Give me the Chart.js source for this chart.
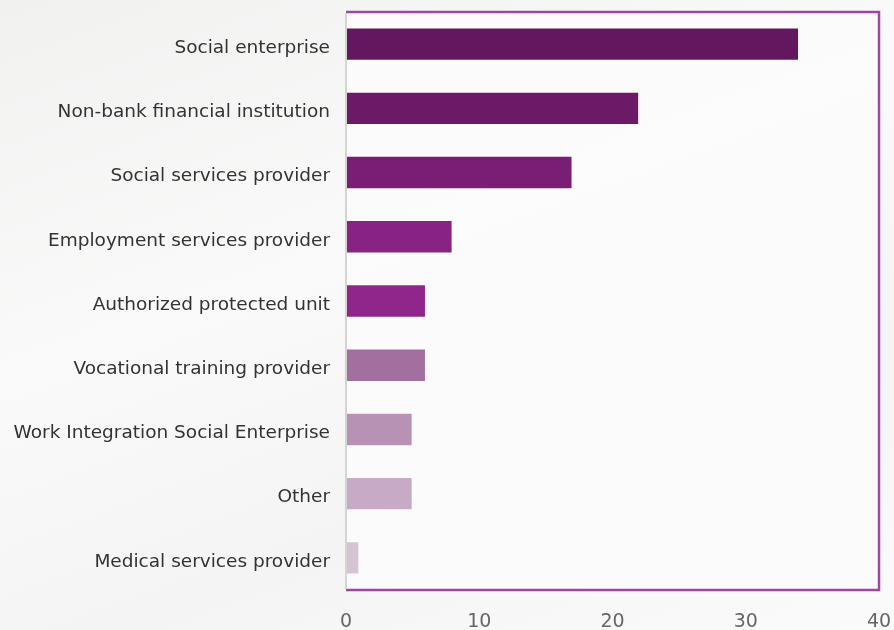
<!DOCTYPE html>
<html lang="en">
<head>
  <meta charset="UTF-8" />
  <title>Organisation types</title>
  <style>
    html, body {
      margin: 0;
      padding: 0;
      width: 894px;
      height: 630px;
      overflow: hidden;
      background: linear-gradient(160deg, #f1f1f0 0%, #fafafa 40%, #f4f4f4 70%, #fbfbfb 100%);
      font-family: "DejaVu Sans", Arial, sans-serif;
    }
    #wrap {
      position: absolute;
      left: 0;
      top: 0;
      width: 894px;
      height: 630px;
    }
  </style>
</head>
<body>
  <div id="wrap"><canvas id="org-chart" width="894" height="630"></canvas></div>

  <script src="https://cdn.jsdelivr.net/npm/chart.js"></script>
  <script>
    const categories = [
      "Social enterprise",
      "Non-bank financial institution",
      "Social services provider",
      "Employment services provider",
      "Authorized protected unit",
      "Vocational training provider",
      "Work Integration Social Enterprise",
      "Other",
      "Medical services provider"
    ];
    const counts = [34, 22, 17, 8, 6, 6, 5, 5, 1];
    const barColors = [
      "#62175e", "#6c1a68", "#7a1e75", "#882383", "#90258c",
      "#a36f9f", "#b892b5", "#c7aac5", "#d6c3d3"
    ];
    const xTicks = [0, 10, 20, 30, 40];

    // purple frame along top, right and bottom of plot area, grey line on the left
    const frame = {
      id: "frame",
      afterDraw(chart) {
        const { ctx, chartArea: a } = chart;
        ctx.save();
        ctx.strokeStyle = "#a443a0";
        ctx.lineWidth = 2.5;
        ctx.beginPath();
        ctx.moveTo(a.left, a.top);
        ctx.lineTo(a.right, a.top);
        ctx.lineTo(a.right, a.bottom);
        ctx.lineTo(a.left, a.bottom);
        ctx.stroke();
        ctx.strokeStyle = "#d4d4d4";
        ctx.lineWidth = 2;
        ctx.beginPath();
        ctx.moveTo(a.left, a.top + 1);
        ctx.lineTo(a.left, a.bottom - 1);
        ctx.stroke();
        ctx.restore();
      }
    };

    const plotBg = {
      id: "plotBg",
      beforeDraw(chart) {
        const { ctx, chartArea: a } = chart;
        ctx.save();
        ctx.fillStyle = "rgba(252,252,252,0.85)";
        ctx.fillRect(a.left, a.top, a.right - a.left, a.bottom - a.top);
        ctx.restore();
      }
    };

    new Chart(document.getElementById("org-chart"), {
      type: "bar",
      data: {
        labels: categories,
        datasets: [{
          data: counts,
          backgroundColor: barColors,
          borderColor: "rgba(255,255,255,0.35)",
          borderWidth: 1,
          barPercentage: 0.52,
          categoryPercentage: 1
        }]
      },
      options: {
        indexAxis: "y",
        responsive: false,
        animation: false,
        layout: { padding: { top: 12, right: 15, left: 0, bottom: 0 } },
        plugins: {
          legend: { display: false },
          tooltip: { enabled: false }
        },
        scales: {
          x: {
            min: 0,
            max: 40,
            afterBuildTicks: s => { s.ticks = xTicks.map(v => ({ value: v })); },
            afterFit: s => { s.height = 40; s.paddingLeft = 0; s.paddingRight = 0; },
            grid: { display: false, drawTicks: false },
            border: { display: false },
            ticks: {
              padding: 21,
              color: "#666",
              font: { family: "DejaVu Sans", size: 19 }
            }
          },
          y: {
            afterFit: s => { s.width = 346; s.paddingTop = 0; s.paddingBottom = 0; },
            grid: { display: false, drawTicks: false },
            border: { display: false },
            ticks: {
              padding: 16,
              labelOffset: 4,
              color: "#333",
              font: { family: "DejaVu Sans", size: 18.5 }
            }
          }
        }
      },
      plugins: [plotBg, frame]
    });
  </script>
</body>
</html>
